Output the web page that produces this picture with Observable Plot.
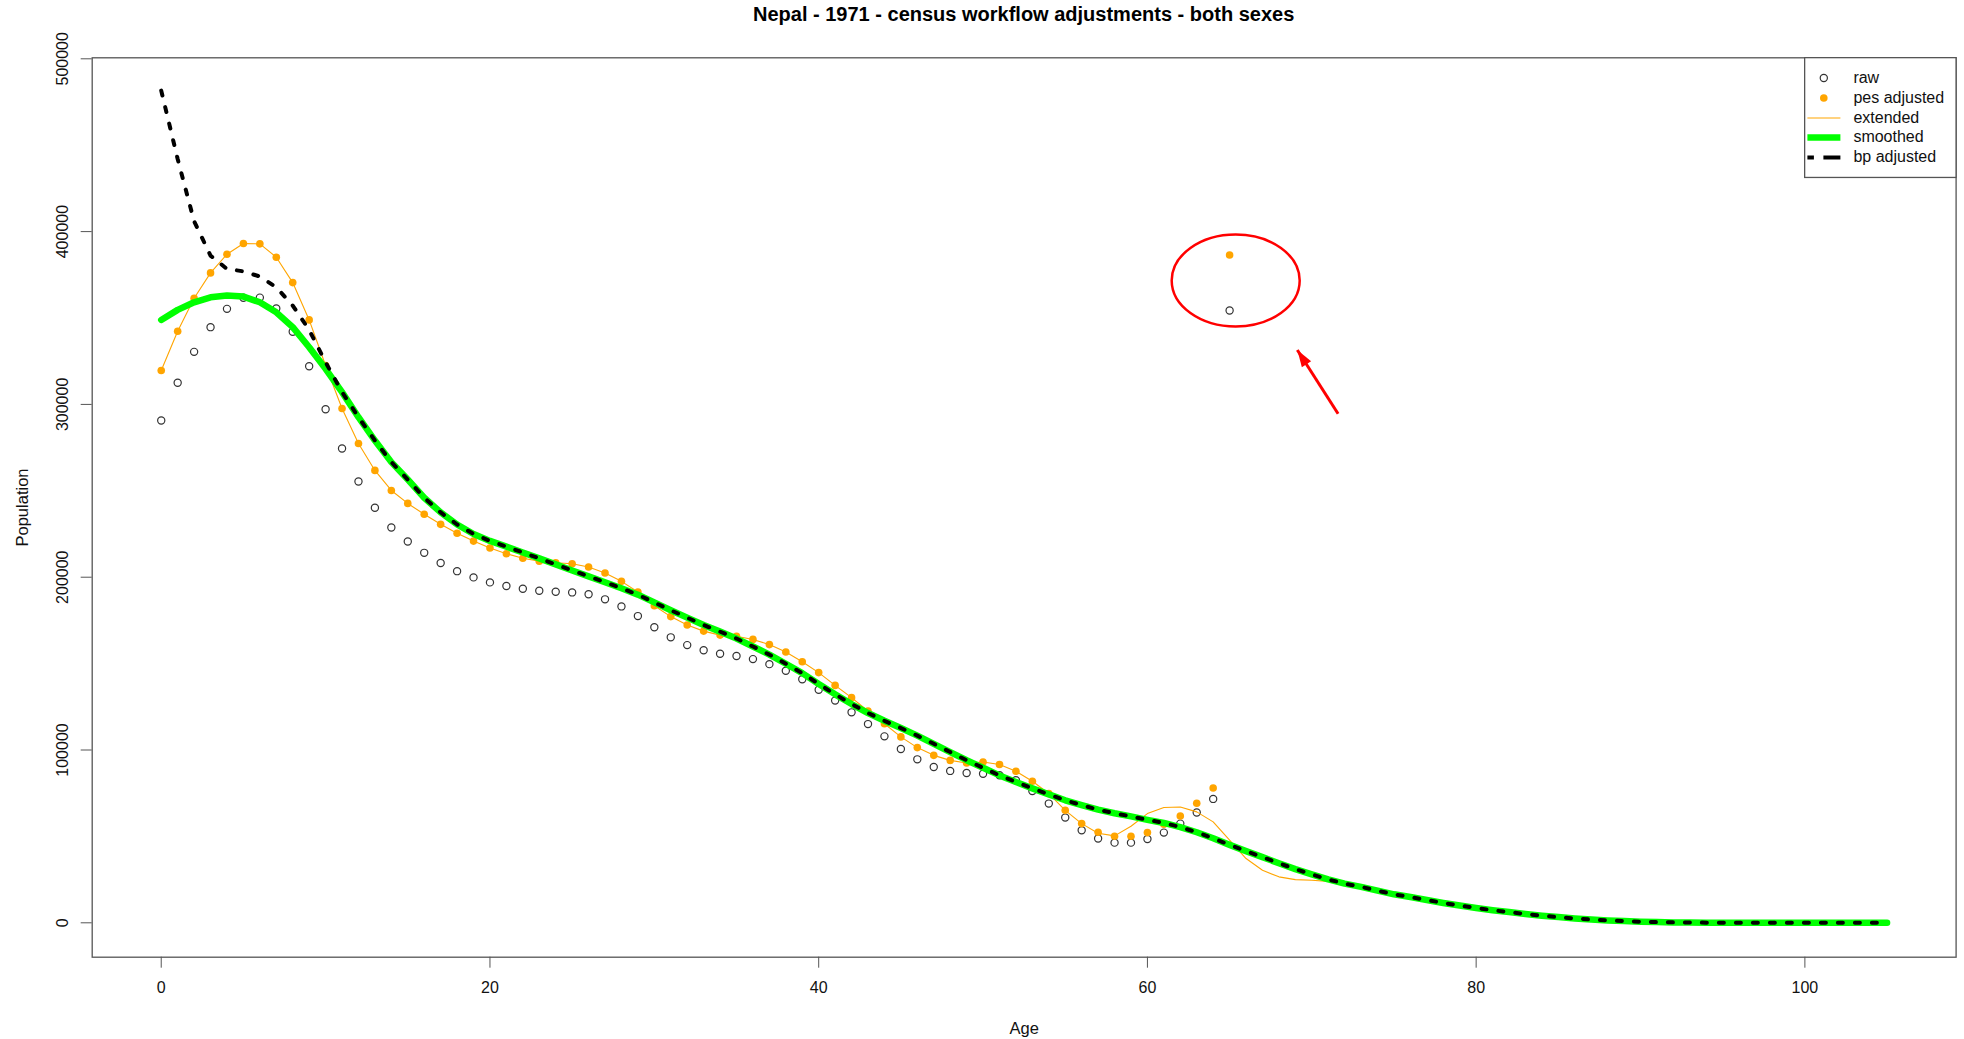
<!DOCTYPE html>
<html>
<head>
<meta charset="utf-8">
<script src="https://cdn.jsdelivr.net/npm/d3@7"></script>
<script src="https://cdn.jsdelivr.net/npm/@observablehq/plot@0.6"></script>
<style>
  html, body { margin: 0; padding: 0; background: #fff; }
  #wrap { position: relative; width: 1964px; height: 1039px; font-family: "Liberation Sans", Arial, Helvetica, sans-serif; }
  #title { height: 36px; line-height: 29px; font-size: 20px; font-weight: bold; text-align: center;
           padding-left: 91.7px; padding-right: 8.4px; box-sizing: border-box; color: #000; white-space: nowrap; }
  #legend { position: absolute; left: 1803.6px; top: 57.3px; }
</style>
</head>
<body>
<div id="wrap">
  <div id="title">Nepal - 1971 - census workflow adjustments - both sexes</div>
  <div id="chart"></div>
  <div id="legend"></div>
</div>
<script>
// ---------------- data ----------------
const pointAges = [0,1,2,3,4,5,6,7,8,9,10,11,12,13,14,15,16,17,18,19,20,21,22,23,24,25,26,27,28,29,
  30,31,32,33,34,35,36,37,38,39,40,41,42,43,44,45,46,47,48,49,50,51,52,53,54,55,56,57,58,59,60,61,62,63,64,65];

const rawPop = [
  290700, 312500, 330400, 344700, 355300, 361700, 361800, 355500, 342000, 322100,
  297200, 274500, 255400, 240200, 228800, 220700, 214100, 208200, 203500, 199900,
  197000, 194900, 193300, 192200, 191600, 191200, 190100, 187200, 183100, 177500,
  171000, 165200, 160700, 157700, 155700, 154400, 152600, 149700, 145900, 140900,
  134900, 128600, 121800, 115000, 107900, 100600, 94600, 90200, 87900, 86700,
  86300, 85400, 82500, 76300, 69000, 60900, 53600, 48800, 46400, 46400,
  48500, 52200, 57400, 63800, 71700, 354300];

const pesPop = [
  319600, 342300, 361400, 376100, 386900, 393100, 392900, 385200, 370500, 348900,
  322500, 297600, 277400, 261800, 250200, 242700, 236400, 230600, 225400, 220900,
  216900, 213600, 211000, 209300, 208400, 207800, 205900, 202400, 197600, 191400,
  183500, 177200, 172300, 168800, 166500, 165800, 164000, 161000, 156700, 151100,
  144800, 137400, 130300, 122600, 115200, 107600, 101400, 96900, 94000, 92500,
  93100, 91600, 87700, 81900, 74800, 65100, 57400, 52400, 50100, 50100,
  52200, 57000, 61800, 69200, 78000, 386500];

const curveAges = [0,1,2,3,4,5,6,7,8,9,10,11,12,13,14,15,16,17,18,19,20,21,22,23,24,25,26,27,28,29,
  30,31,32,33,34,35,36,37,38,39,40,41,42,43,44,45,46,47,48,49,50,51,52,53,54,55,56,57,58,59,
  60,61,62,63,64,65,66,67,68,69,70,71,72,73,74,75,76,77,78,79,80,81,82,83,84,85,86,87,88,89,
  90,91,92,93,94,95,96,97,98,99,100,101,102,103,104,105];

const smoothedPop = [
  348900, 354700, 359100, 362000, 363000, 362400, 359100, 353300, 344700, 333100,
  320600, 307100, 292600, 279100, 266600, 256500, 246000, 237500, 230500, 225000,
  221000, 217700, 214300, 210900, 207400, 203900, 200500, 197100, 193600, 189900,
  185400, 180900, 176600, 172300, 168500, 164500, 159900, 155200, 149900, 144500,
  138200, 132200, 126600, 121400, 116900, 112700, 108300, 103600, 98800, 94100,
  89700, 85300, 81500, 77800, 74300, 70900, 68100, 65500, 63400, 61600,
  59600, 57800, 55400, 52400, 48900, 45100, 41500, 38000, 34500, 31100,
  28000, 25100, 22700, 20800, 18600, 16500, 14900, 13200, 11500, 10000,
  8600, 7300, 6200, 5100, 4100, 3300, 2500, 1900, 1400, 1000,
  650, 400, 250, 150, 100, 60, 40, 25, 15, 10,
  5, 3, 2, 1, 1, 0];

// bp adjusted differs from the smoothed curve only for ages 0-10
const bpYoungPop = [481600, 442000, 406000, 386100, 378400, 377000, 374000, 367800, 357200, 343100, 324400];
// extended curve departs from the pes points for ages 56-72
const extendedTailPop = [57400, 51800, 50300, 55900, 63200, 66700, 67000, 64200, 58400, 47800, 37200, 30400, 26600, 25000, 24600, 24000, 22700];

const bpPop = bpYoungPop.concat(smoothedPop.slice(11));
const extendedPop = pesPop.slice(0, 56).concat(extendedTailPop, smoothedPop.slice(73));

const xTicks = [0, 20, 40, 60, 80, 100];
const yTicks = [0, 100000, 200000, 300000, 400000, 500000];
const legendLabels = ["raw", "pes adjusted", "extended", "smoothed", "bp adjusted"];

// annotation (red circle around the age-65 outliers and arrow)
const ellipseCenter = [{age: 65.37, population: 371700}];
const arrowLine = [{ageFrom: 71.6, popFrom: 294600, ageTo: 69.12, popTo: 331500}];

// ---------------- tables ----------------
const points = pointAges.map((a, i) => ({age: a, raw: rawPop[i], pes: pesPop[i]}));
const curves = curveAges.map((a, i) => ({age: a, smoothed: smoothedPop[i], extended: extendedPop[i], bp: bpPop[i]}));

// ---------------- custom symbols ----------------
const ellipseSymbol = {
  draw(ctx) {
    const rx = 64, ry = 46, k = 0.5523;
    ctx.moveTo(rx, 0);
    ctx.bezierCurveTo(rx, k * ry, k * rx, ry, 0, ry);
    ctx.bezierCurveTo(-k * rx, ry, -rx, k * ry, -rx, 0);
    ctx.bezierCurveTo(-rx, -k * ry, -k * rx, -ry, 0, -ry);
    ctx.bezierCurveTo(k * rx, -ry, rx, -k * ry, rx, 0);
    ctx.closePath();
  }
};
const headSymbol = {
  draw(ctx) {
    const a = -32.66 * Math.PI / 180, c = Math.cos(a), s = Math.sin(a);
    const pts = [[0, 0], [-5.5, 17], [5.5, 17]].map(([x, y]) => [x * c - y * s, x * s + y * c]);
    ctx.moveTo(pts[0][0], pts[0][1]);
    ctx.lineTo(pts[1][0], pts[1][1]);
    ctx.lineTo(pts[2][0], pts[2][1]);
    ctx.closePath();
  }
};

// ---------------- plot ----------------
const font = '"Liberation Sans", Arial, Helvetica, sans-serif';
const chart = Plot.plot({
  width: 1964,
  height: 1003,
  marginLeft: 91.7,
  marginRight: 8.4,
  marginTop: 21.3,
  marginBottom: 82.3,
  style: {fontFamily: font, fontSize: "16px", color: "#111", background: "white", overflow: "visible"},
  x: {domain: [-4.2, 109.2], label: null},
  y: {domain: [-19900, 500580], label: null},
  marks: [
    Plot.axisX({ticks: xTicks, tickSize: 11, tickPadding: 13, fontSize: 16, stroke: "#555", label: null}),
    Plot.axisY({ticks: yTicks, tickSize: 11, tickFormat: () => "", stroke: "#555", label: null}),
    Plot.text(yTicks, {y: d => d, text: d => String(d), frameAnchor: "left", dx: -29.2, rotate: -90,
      textAnchor: "middle", lineAnchor: "middle", fontSize: 16, fill: "#111"}),
    Plot.text(["Age"], {text: d => d, frameAnchor: "bottom", dy: 71.3, lineAnchor: "middle", fontSize: 16.5, fill: "#111"}),
    Plot.text(["Population"], {text: d => d, frameAnchor: "left", dx: -69.2, rotate: -90,
      textAnchor: "middle", lineAnchor: "middle", fontSize: 16.5, fill: "#111"}),
    Plot.dot(points, {x: "age", y: "raw", r: 3.6, stroke: "#333", strokeWidth: 1.2, fill: "none"}),
    Plot.dot(points, {x: "age", y: "pes", r: 3.8, fill: "#FFA500", stroke: "none"}),
    Plot.line(curves, {x: "age", y: "extended", stroke: "#FFA500", strokeWidth: 1.1}),
    Plot.line(curves, {x: "age", y: "smoothed", stroke: "#00FF00", strokeWidth: 6.5, strokeLinecap: "round", strokeLinejoin: "round"}),
    Plot.line(curves, {x: "age", y: "bp", stroke: "#000", strokeWidth: 4, strokeDasharray: "5,12", strokeLinecap: "round", strokeLinejoin: "round"}),
    Plot.dot(ellipseCenter, {x: "age", y: "population", symbol: ellipseSymbol, r: 1, stroke: "#FF0000", strokeWidth: 2.5, fill: "none"}),
    Plot.link(arrowLine, {x1: "ageFrom", y1: "popFrom", x2: "ageTo", y2: "popTo", stroke: "#FF0000", strokeWidth: 3}),
    Plot.dot(arrowLine, {x: "ageTo", y: "popTo", symbol: headSymbol, r: 1, fill: "#FF0000", stroke: "none"}),
    Plot.frame({stroke: "#555", strokeWidth: 1.3})
  ]
});
document.getElementById("chart").appendChild(chart);

// ---------------- legend (inside plot, top-right) ----------------
const lg = d3.select("#legend").append("svg").attr("width", 153).attr("height", 122)
  .style("font-family", font).style("font-size", "16px").style("display", "block");
lg.append("rect").attr("x", 0.65).attr("y", 0.65).attr("width", 151.4).attr("height", 119.8)
  .attr("fill", "white").attr("stroke", "#555").attr("stroke-width", 1.3);
const rowY = [21, 41, 61, 80.4, 100.4];
lg.append("circle").attr("cx", 19.8).attr("cy", rowY[0]).attr("r", 3.6).attr("fill", "none").attr("stroke", "#333").attr("stroke-width", 1.2);
lg.append("circle").attr("cx", 19.8).attr("cy", rowY[1]).attr("r", 3.8).attr("fill", "#FFA500");
lg.append("line").attr("x1", 3.4).attr("x2", 36.4).attr("y1", rowY[2]).attr("y2", rowY[2]).attr("stroke", "#FFA500").attr("stroke-width", 1.1);
lg.append("line").attr("x1", 3.4).attr("x2", 36.4).attr("y1", rowY[3]).attr("y2", rowY[3]).attr("stroke", "#00FF00").attr("stroke-width", 6.5);
lg.append("line").attr("x1", 3.4).attr("x2", 36.4).attr("y1", rowY[4]).attr("y2", rowY[4]).attr("stroke", "#000").attr("stroke-width", 4)
  .attr("stroke-dasharray", "6.5,9.5,17,100");
lg.selectAll("text.lab").data(legendLabels).join("text").attr("class", "lab")
  .attr("x", 49.4).attr("y", (d, i) => rowY[i] + 5).attr("fill", "#111").text(d => d);
</script>
</body>
</html>
